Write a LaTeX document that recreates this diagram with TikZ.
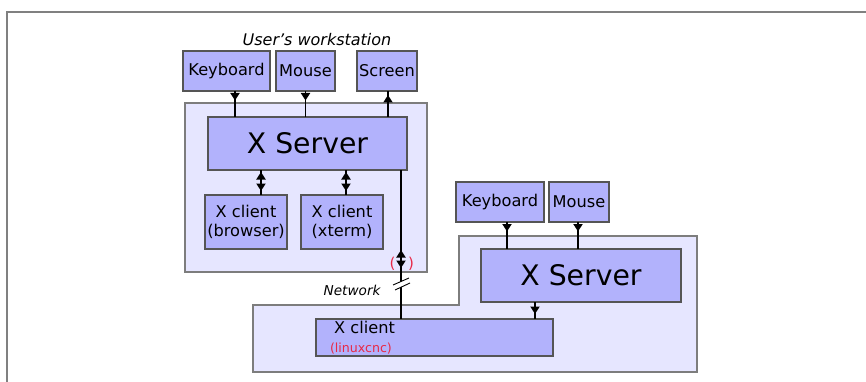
\documentclass[tikz,border=0pt]{standalone}
\usepackage{fontspec}
\setmainfont{DejaVu Sans}
\usetikzlibrary{arrows.meta,decorations.markings}

\definecolor{boxfill}{RGB}{178,178,252}
\definecolor{boxline}{RGB}{85,85,85}
\definecolor{hostfill}{RGB}{230,230,255}
\definecolor{hostline}{RGB}{125,125,125}
\definecolor{netred}{RGB}{232,40,70}

\tikzset{
  >={Triangle[length=7.5pt,width=9pt]},
  box/.style={draw=boxline, fill=boxfill, line width=1.3pt, inner sep=0pt,
    outer sep=0pt, align=center, font=\fontsize{16.2}{18.5}\selectfont},
  bigbox/.style={box, font=\fontsize{28.3}{32}\selectfont},
  host/.style={draw=hostline, fill=hostfill, line width=1.2pt},
  wire/.style={line width=1.9pt},
  % one tip, placed a fixed distance along the wire
  feed/.style={wire, postaction={decorate},
    decoration={markings, mark=at position #1 with {\arrow{>}}}},
  % two tips facing away from each other
  twoway/.style 2 args={wire, postaction={decorate},
    decoration={markings,
      mark=at position #1 with {\arrowreversed{>}},
      mark=at position #2 with {\arrow{>}}}},
}

\begin{document}
\begin{tikzpicture}[x=1pt, y=-1pt]
  \useasboundingbox (0,0) rectangle (866,382);

  % page frame
  \draw[gray, line width=1.5pt] (7,382) -- (7,12) -- (866,12);

  % hosts
  \filldraw[host] (185,103) rectangle (427,272);
  \filldraw[host] (253,305) -- (459,305) -- (459,236) -- (697,236)
    -- (697,372) -- (253,372) -- cycle;

  % user's workstation
  \node[font=\fontsize{16}{18}\selectfont\itshape] (wslabel) at (317,40)
    {User’s workstation};
  \node[box, minimum width=87pt, minimum height=40pt] (kbd) at (226.5,71) {Keyboard};
  \node[box, minimum width=59pt, minimum height=40pt] (mouse) at (305.5,71) {Mouse};
  \node[box, minimum width=60pt, minimum height=40pt] (screen) at (387,71) {Screen};
  \node[bigbox, minimum width=199pt, minimum height=53pt] (xsrv) at (307.5,143.5) {X Server};
  \node[box, minimum width=82pt, minimum height=54pt] (browser) at (246,222)
    {X client\\(browser)};
  \node[box, minimum width=82pt, minimum height=54pt] (xterm) at (342,222)
    {X client\\(xterm)};

  \draw[feed=9.5pt] ([xshift=8.5pt]kbd.south) -- ([xshift=8.5pt]kbd.south |- xsrv.north);
  \draw[feed=9.5pt] (mouse.south) -- (mouse.south |- xsrv.north);
  \draw[feed=22pt] ([xshift=1pt]screen.south |- xsrv.north) -- ([xshift=1pt]screen.south);
  \draw[twoway={2pt}{21pt}] ([xshift=15pt]browser.north |- xsrv.south) -- ([xshift=15pt]browser.north);
  \draw[twoway={2pt}{21pt}] ([xshift=4pt]xterm.north |- xsrv.south) -- ([xshift=4pt]xterm.north);

  % remote machine
  \node[box, minimum width=88pt, minimum height=40pt] (kbdb) at (500,202) {Keyboard};
  \node[box, minimum width=60pt, minimum height=40pt] (mouseb) at (579,202) {Mouse};
  \node[bigbox, minimum width=200pt, minimum height=53pt] (xsrvb) at (581,275.5) {X Server};
  \node[box, minimum width=237pt, minimum height=37pt, text width=209pt,
    align=left] (cnc) at (434.5,337.5)
    {\hspace{4pt}X client\\{\fontsize{12.6}{14}\selectfont\color{netred}(linuxcnc)}};

  \draw[feed=9.5pt] ([xshift=7pt]kbdb.south) -- ([xshift=7pt]kbdb.south |- xsrvb.north);
  \draw[feed=9.5pt] ([xshift=-1pt]mouseb.south) -- ([xshift=-1pt]mouseb.south |- xsrvb.north);
  \draw[feed=12pt] ([xshift=-46pt]xsrvb.south) -- ([xshift=-46pt]xsrvb.south |- cnc.north);

  % network link
  \draw[twoway={80pt}{98pt}] ([xshift=-6pt]xsrv.south east) -- ([xshift=-6pt]xsrv.south east |- cnc.north);
  \node[text=netred, font=\fontsize{15}{17}\selectfont] (lpar) at (392.5,264) {(};
  \node[text=netred, font=\fontsize{15}{17}\selectfont] (rpar) at (411,264) {)};
  \fill[white] (393,285) -- (409,278) -- (410,283) -- (395,290) -- cycle;
  \draw[line width=0.9pt] (393,285) -- (409,278);
  \draw[line width=0.9pt] (395,290) -- (410,283);
  \node[anchor=east, font=\fontsize{13.6}{15}\selectfont\itshape] (netlabel) at (384,290) {Network};
\end{tikzpicture}
\end{document}
